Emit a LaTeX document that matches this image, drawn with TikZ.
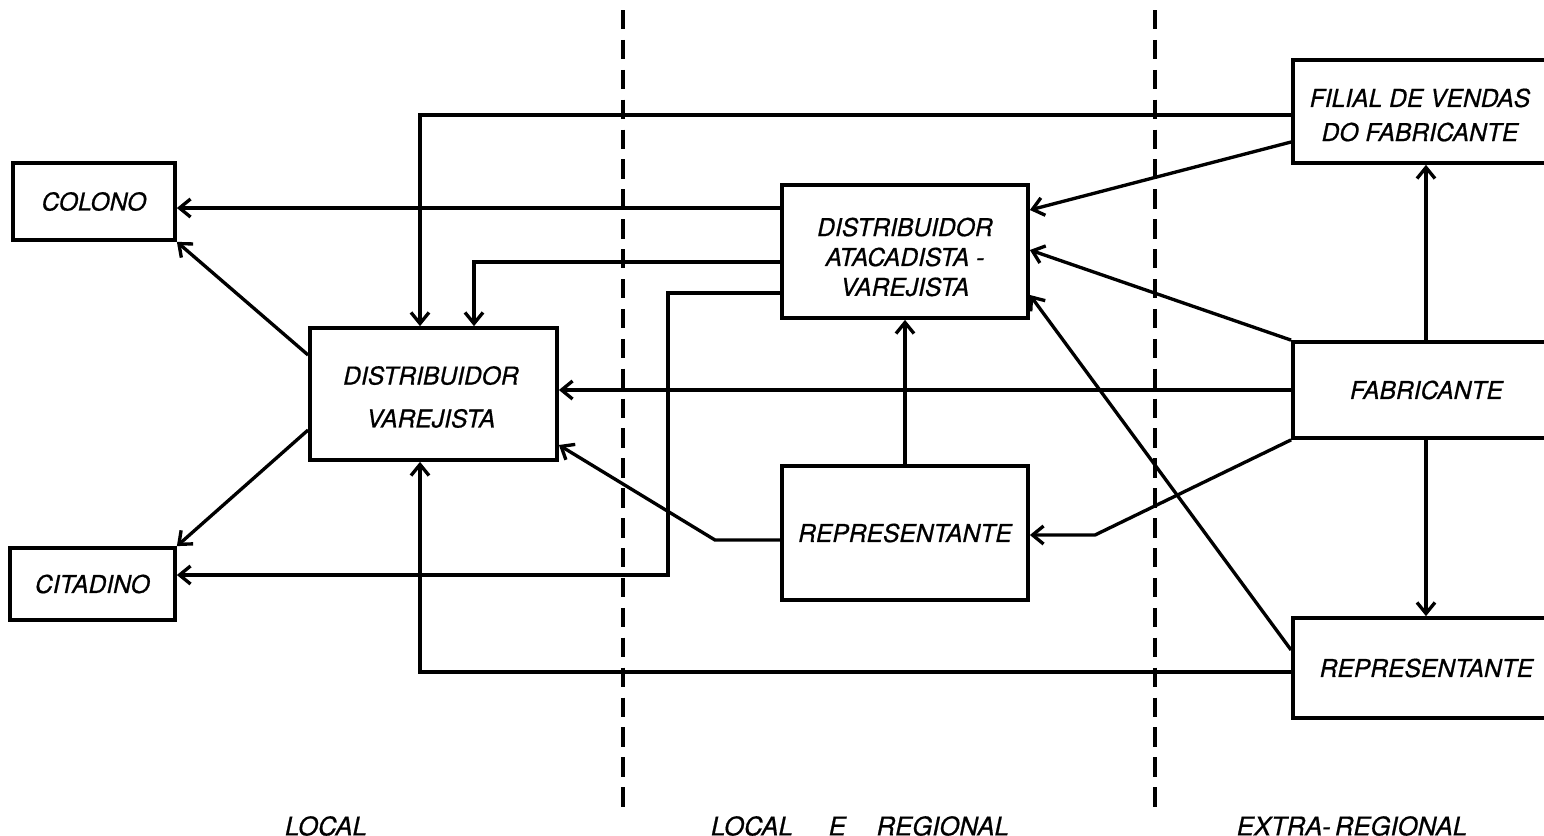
\documentclass[tikz,border=0pt]{standalone}
\usepackage{fontspec}
\setmainfont{TeX Gyre Heros}[FakeBold=0.7]
\usetikzlibrary{arrows.meta}
\begin{document}
\begin{tikzpicture}[x=0.01cm,y=-0.01cm,
  font=\fontsize{7}{8.5}\selectfont\itshape,
  box/.style={draw,line width=1.05pt,rectangle,inner sep=0pt,align=center},
  txt/.style={inner sep=0pt,align=center},
  arr/.style={line width=0.95pt,-{Straight Barb[length=1.1mm,width=1.8mm,line width=0.95pt]}},
  zone/.style={line width=0.95pt,dash pattern=on 5.5pt off 3pt},
  lbl/.style={inner sep=0pt,anchor=center,font=\fontsize{7.3}{8.5}\selectfont\itshape}]
\useasboundingbox (0,0) rectangle (1544,836);
\clip (0,0) rectangle (1544,836);

% zone separators
\draw[zone] (623,10) -- (623,815);
\draw[zone] (1155,10) -- (1155,815);

% boxes
\node[box,minimum width=1.62cm,minimum height=0.77cm] (colono) at (94,201.5) {COLONO};
\node[box,minimum width=1.65cm,minimum height=0.72cm] (citadino) at (92.5,584) {CITADINO};
\node[box,minimum width=2.47cm,minimum height=1.32cm] (dv) at (433.5,394) {};
\node[txt] (dvtxt) at (431,397) {DISTRIBUIDOR\\[3.7pt]VAREJISTA};
\node[box,minimum width=2.46cm,minimum height=1.33cm] (dav) at (905,251.5) {};
\node[txt] (davtxt) at (905,257) {DISTRIBUIDOR\\ATACADISTA -\\VAREJISTA};
\node[box,minimum width=2.46cm,minimum height=1.34cm] (repm) at (905,533) {REPRESENTANTE};
\node[box,minimum width=2.67cm,minimum height=1.03cm] (filial) at (1426.5,111.5) {};
\node[txt] (filtxt) at (1420,115) {FILIAL DE VENDAS\\[1.2pt]DO FABRICANTE};
\node[box,minimum width=2.67cm,minimum height=0.96cm] (fab) at (1426.5,390) {FABRICANTE};
\node[box,minimum width=2.67cm,minimum height=1.00cm] (repr) at (1426.5,668) {REPRESENTANTE};

% flows
\draw[arr] (filial.west |- 0,115) -| (dv.north -| 420,0);
\draw[arr] (filial.west |- 0,142) -- (dav.east |- 0,210);
\draw[arr] (dav.west |- 0,208) -- (colono.east |- 0,208);
\draw[arr] (dav.west |- 0,262) -| (dv.north -| 474,0);
\draw[arr] (dav.west |- 0,293) -| (668,575) -- (citadino.east |- 0,575);
\draw[arr] (dv.west |- 0,355) -- (colono.south east);
\draw[arr] (dv.west |- 0,430) -- (citadino.north east);
\draw[arr] (fab.west) -- (dv.east |- fab.west);
\draw[arr] (fab.north west) -- (dav.east |- 0,250);
\draw[arr] (fab.north -| 1426,0) -- (filial.south -| 1426,0);
\draw[arr] (fab.south -| 1426,0) -- (repr.north -| 1426,0);
\draw[arr] (fab.south west) -- (1095,535) -- (repm.east |- 0,535);
\draw[arr] (repr.west |- 0,650) -- (dav.east |- 0,295);
\draw[arr] (repr.west |- 0,672) -| (dv.south -| 420,0);
\draw[arr] (repm.north) -- (dav.south);
\draw[arr] (repm.west |- 0,540) -- (715,540) -- (dv.east |- 0,445);

% zone names
\node[lbl] (zlocal) at (326,826) {LOCAL};
\node[lbl] (zreg) at (860,826) {LOCAL\hspace{1.4em}E\hspace{1.2em}REGIONAL};
\node[lbl] (zextra) at (1352,826) {EXTRA-\,REGIONAL};
\end{tikzpicture}
\end{document}
